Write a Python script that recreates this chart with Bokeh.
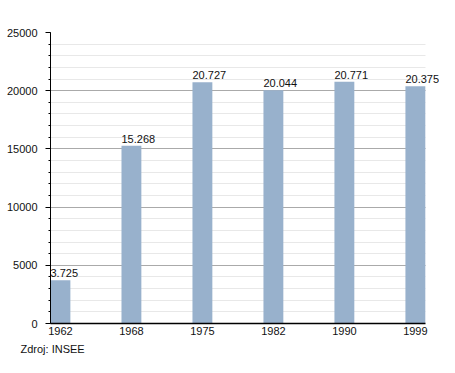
from bokeh.plotting import figure
from bokeh.models import FixedTicker, ColumnDataSource, Range1d, Title, LabelSet
from bokeh.core.properties import value
from bokeh.embed import file_html
from bokeh.resources import INLINE

years = ["1962", "1968", "1975", "1982", "1990", "1999"]
values = [3725, 15268, 20727, 20044, 20771, 20375]
labels = ["3.725", "15.268", "20.727", "20.044", "20.771", "20.375"]
y_ticks = [0, 5000, 10000, 15000, 20000, 25000]

bar_w = 0.28
xs = list(range(len(years)))
src = ColumnDataSource(dict(x=xs, top=values, lab=labels,
                            lx=[x - bar_w / 2 for x in xs]))

FONT = "Liberation Sans"
x0, x1 = -bar_w / 2, len(years) - 1 + bar_w / 2

p = figure(width=439, height=357, output_backend="svg", toolbar_location=None,
           x_range=Range1d(x0, x1 + 0.20),
           y_range=Range1d(0, 25000),
           min_border_left=50, min_border_right=0, min_border_top=32, min_border_bottom=0)
p.outline_line_color = None
p.border_fill_color = "white"
p.background_fill_color = "white"

p.vbar(x="x", top="top", width=bar_w, source=src, fill_color="#98b1cc", line_color=None)
ls = LabelSet(x="lx", y="top", text="lab", source=src, text_font=value(FONT),
              text_font_size=value("11px"), text_color="#111111",
              text_baseline="bottom", text_align="left", y_offset=3)
p.add_layout(ls)

p.xgrid.grid_line_color = None
p.ygrid.grid_line_color = "#aaaaaa"
p.ygrid.minor_grid_line_color = "#e8e8e8"
p.ygrid.cross_bounds = (x0, x1)

p.yaxis.ticker = FixedTicker(ticks=y_ticks, minor_ticks=list(range(0, 25001, 1000)))
p.yaxis.axis_line_color = "black"
p.yaxis.major_tick_line_color = "black"
p.yaxis.minor_tick_line_color = "black"
p.yaxis.major_tick_out = 5
p.yaxis.major_tick_in = 0
p.yaxis.minor_tick_out = 2
p.yaxis.minor_tick_in = 0
p.yaxis.major_label_standoff = 8
p.yaxis.major_label_text_font = FONT
p.yaxis.major_label_text_font_size = "11px"
p.yaxis.major_label_text_color = "#111111"
p.yaxis.formatter.use_scientific = False

p.xaxis.ticker = FixedTicker(ticks=xs)
p.xaxis.bounds = (x0, x1)
p.xaxis.major_label_overrides = {i: y for i, y in enumerate(years)}
p.xaxis.axis_line_color = "black"
p.xaxis.axis_line_width = 1.5
p.xaxis.major_tick_line_color = None
p.xaxis.minor_tick_line_color = None
p.xaxis.major_tick_out = 0
p.xaxis.major_label_standoff = 3
p.xaxis.major_label_text_font = FONT
p.xaxis.major_label_text_font_size = "11px"
p.xaxis.major_label_text_color = "#111111"

src_title = Title(text="Zdroj: INSEE", align="left", text_font=FONT, text_font_size="11px",
                  text_font_style="normal", text_color="#111111", offset=-30, standoff=6)
p.add_layout(src_title, "below")

open("out.html", "w").write(file_html(p, INLINE))
